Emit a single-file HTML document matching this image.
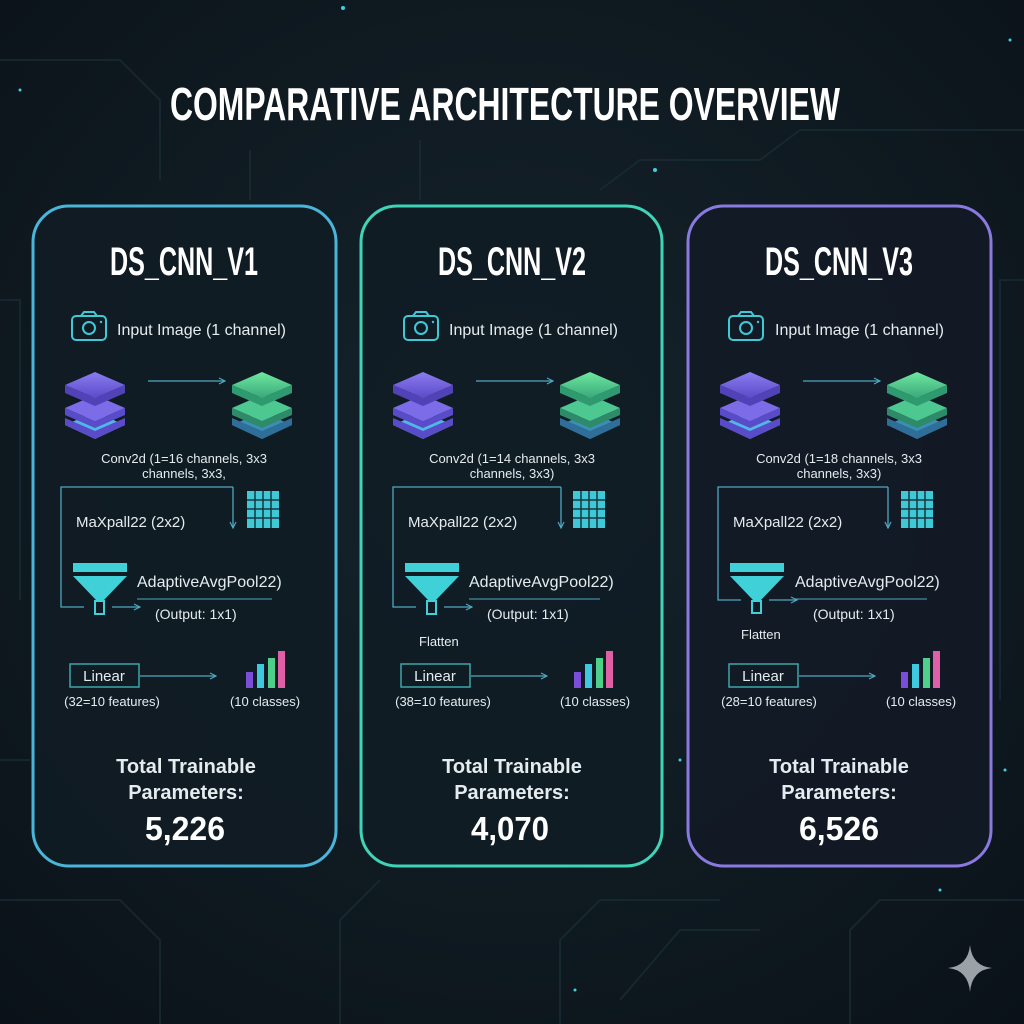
<!DOCTYPE html>
<html><head><meta charset="utf-8"><style>
html,body{margin:0;padding:0;background:#0d161d;}
svg{display:block}
.t{font-family:"Liberation Sans",sans-serif;fill:#e4ecef}
.c{font-family:"Liberation Sans",sans-serif;font-weight:bold;fill:#fff}
</style></head><body>
<svg width="1024" height="1024" viewBox="0 0 1024 1024" xmlns="http://www.w3.org/2000/svg">
<defs>
<radialGradient id="bg" cx="50%" cy="45%" r="75%"><stop offset="0" stop-color="#16242d"/><stop offset="1" stop-color="#0a1218"/></radialGradient>
<linearGradient id="pu" x1="0" y1="0" x2="0" y2="1"><stop offset="0" stop-color="#8b7cf0"/><stop offset="1" stop-color="#5a4bc8"/></linearGradient>
<linearGradient id="gr" x1="0" y1="0" x2="0" y2="1"><stop offset="0" stop-color="#6ee8a0"/><stop offset="1" stop-color="#3aa87a"/></linearGradient>
<marker id="ar" markerWidth="8" markerHeight="8" refX="7" refY="4" orient="auto" markerUnits="userSpaceOnUse"><path d="M1,1 L7,4 L1,7" fill="none" stroke="#4fa7c0" stroke-width="1.2"/></marker>
</defs>
<rect width="1024" height="1024" fill="url(#bg)"/>
<g stroke="#1a2e38" stroke-width="2" fill="none" opacity="0.7">
<path d="M0,60 H120 L160,100 V180"/><path d="M0,300 H20 V600"/><path d="M1024,280 H1000 V700"/>
<path d="M600,190 L640,160 H760 L800,130 H1024"/><path d="M250,150 V200"/><path d="M420,140 V200"/>
<path d="M0,900 H120 L160,940 V1024"/><path d="M560,1024 V940 L600,900 H720"/><path d="M620,1000 L680,930 H760"/>
<path d="M1024,900 H880 L850,930 V1024"/><path d="M340,1024 V920 L380,880"/><path d="M30,760 H0"/>
</g>
<g fill="#3fd0e0"><circle cx="343" cy="8" r="2"/><circle cx="655" cy="170" r="2"/><circle cx="1010" cy="40" r="1.5"/><circle cx="20" cy="90" r="1.5"/><circle cx="680" cy="760" r="1.5"/><circle cx="1005" cy="770" r="1.5"/><circle cx="575" cy="990" r="1.5"/><circle cx="940" cy="890" r="1.5"/></g>
<path d="M970,945 Q972,966 992,968 Q972,970 970,992 Q968,970 948,968 Q968,966 970,945Z" fill="#9aa2a8"/>
<text x="170" y="120" class="c" font-size="46" textLength="670" lengthAdjust="spacingAndGlyphs">COMPARATIVE ARCHITECTURE OVERVIEW</text>

<!-- Card 1 -->
<g>
<rect x="33" y="206" width="303" height="660" rx="36" fill="#111c24" fill-opacity="0.85" stroke="#4ab5d8" stroke-width="3"/>
<text x="110" y="275" class="c" font-size="40" textLength="148" lengthAdjust="spacingAndGlyphs">DS_CNN_V1</text>
<rect x="72" y="316" width="34" height="24" rx="4" fill="none" stroke="#3fc9d6" stroke-width="2"/><path d="M81,316 l3,-4 h10 l3,4" fill="none" stroke="#3fc9d6" stroke-width="2"/><circle cx="89" cy="328" r="6" fill="none" stroke="#3fc9d6" stroke-width="2"/><circle cx="101" cy="322" r="1.2" fill="#3fc9d6"/>
<text x="117" y="335" class="t" font-size="16">Input Image (1 channel)</text>
<g><path d="M95,412 l30,13 l-30,14 l-30,-14z" fill="#4fb8e8"/><path d="M65,418 l30,13 l30,-13 v7 l-30,14 l-30,-14z" fill="#5a4bc8"/><path d="M95,395 l30,13 l-30,13 l-30,-13z" fill="#7c6ce8"/><path d="M65,408 v7 l30,13 l30,-13 v-7 l-30,13z" fill="#5a4bc8"/><path d="M95,372 l30,13 l-30,13 l-30,-13z" fill="url(#pu)"/><path d="M65,385 v8 l30,13 l30,-13 v-8 l-30,13z" fill="#5242b8"/></g>
<g><path d="M262,412 l30,13 l-30,14 l-30,-14z" fill="#3a8fb8"/><path d="M232,418 l30,13 l30,-13 v7 l-30,14 l-30,-14z" fill="#2e6e98"/><path d="M262,395 l30,13 l-30,13 l-30,-13z" fill="#4cc890"/><path d="M232,408 v7 l30,13 l30,-13 v-7 l-30,13z" fill="#2f8a6a"/><path d="M262,372 l30,13 l-30,13 l-30,-13z" fill="url(#gr)"/><path d="M232,385 v8 l30,13 l30,-13 v-8 l-30,13z" fill="#2f9a70"/></g>
<line x1="148" y1="381" x2="225" y2="381" stroke="#4fa7c0" stroke-width="1.3" marker-end="url(#ar)"/>
<text x="184" y="463" text-anchor="middle" class="t" font-size="13">Conv2d (1=16 channels, 3x3</text>
<text x="184" y="478" text-anchor="middle" class="t" font-size="13">channels, 3x3,</text>
<path d="M233,487 H61 V607 H84" fill="none" stroke="#4fa7c0" stroke-width="1.3"/>
<line x1="233" y1="487" x2="233" y2="528" stroke="#4fa7c0" stroke-width="1.3" marker-end="url(#ar)"/>
<line x1="112" y1="607" x2="140" y2="607" stroke="#4fa7c0" stroke-width="1.3" marker-end="url(#ar)"/>
<rect x="247" y="491" width="32" height="37" fill="#3fc9d6"/>
<g stroke="#1a3540" stroke-width="1.5"><line x1="255" y1="491" x2="255" y2="528"/><line x1="263" y1="491" x2="263" y2="528"/><line x1="271" y1="491" x2="271" y2="528"/><line x1="247" y1="500" x2="279" y2="500"/><line x1="247" y1="509" x2="279" y2="509"/><line x1="247" y1="518" x2="279" y2="518"/></g>
<text x="76" y="527" class="t" font-size="15">MaXpall22 (2x2)</text>
<rect x="73" y="563" width="54" height="9" fill="#3fd0d8"/><path d="M73,576 H127 L104,600 H96Z" fill="#3fd0d8"/><rect x="95" y="601" width="9" height="13" fill="none" stroke="#3fd0d8" stroke-width="2"/>
<text x="137" y="587" class="t" font-size="16">AdaptiveAvgPool22)</text>
<line x1="137" y1="599" x2="272" y2="599" stroke="#4fa7c0" stroke-width="1"/>
<text x="155" y="619" class="t" font-size="14">(Output: 1x1)</text>
<rect x="70" y="664" width="69" height="23" fill="none" stroke="#3aa6a8" stroke-width="1.5"/>
<text x="104" y="681" text-anchor="middle" class="t" font-size="15">Linear</text>
<line x1="140" y1="676" x2="216" y2="676" stroke="#4fa7c0" stroke-width="1.3" marker-end="url(#ar)"/>
<text x="112" y="706" text-anchor="middle" class="t" font-size="13">(32=10 features)</text>
<rect x="246" y="672" width="7" height="16" fill="#7a4ed8"/><rect x="257" y="664" width="7" height="24" fill="#3fc9e0"/><rect x="268" y="658" width="7" height="30" fill="#4cd08a"/><rect x="278" y="651" width="7" height="37" fill="#e060a8"/>
<text x="265" y="706" text-anchor="middle" class="t" font-size="13">(10 classes)</text>
<text x="186" y="773" text-anchor="middle" class="t" font-size="20" font-weight="bold" fill="#fff">Total Trainable</text>
<text x="186" y="799" text-anchor="middle" class="t" font-size="20" font-weight="bold" fill="#fff">Parameters:</text>
<text x="145" y="840" class="c" font-size="33" textLength="80" lengthAdjust="spacingAndGlyphs">5,226</text>
</g>

<!-- Card 2 -->
<g transform="translate(328,0)">
<rect x="33" y="206" width="301" height="660" rx="36" fill="#111c24" fill-opacity="0.85" stroke="#3fd3b8" stroke-width="3"/>
<text x="110" y="275" class="c" font-size="40" textLength="148" lengthAdjust="spacingAndGlyphs">DS_CNN_V2</text>
<rect x="76" y="316" width="34" height="24" rx="4" fill="none" stroke="#3fc9d6" stroke-width="2"/><path d="M85,316 l3,-4 h10 l3,4" fill="none" stroke="#3fc9d6" stroke-width="2"/><circle cx="93" cy="328" r="6" fill="none" stroke="#3fc9d6" stroke-width="2"/><circle cx="105" cy="322" r="1.2" fill="#3fc9d6"/>
<text x="121" y="335" class="t" font-size="16">Input Image (1 channel)</text>
<g><path d="M95,412 l30,13 l-30,14 l-30,-14z" fill="#4fb8e8"/><path d="M65,418 l30,13 l30,-13 v7 l-30,14 l-30,-14z" fill="#5a4bc8"/><path d="M95,395 l30,13 l-30,13 l-30,-13z" fill="#7c6ce8"/><path d="M65,408 v7 l30,13 l30,-13 v-7 l-30,13z" fill="#5a4bc8"/><path d="M95,372 l30,13 l-30,13 l-30,-13z" fill="url(#pu)"/><path d="M65,385 v8 l30,13 l30,-13 v-8 l-30,13z" fill="#5242b8"/></g>
<g><path d="M262,412 l30,13 l-30,14 l-30,-14z" fill="#3a8fb8"/><path d="M232,418 l30,13 l30,-13 v7 l-30,14 l-30,-14z" fill="#2e6e98"/><path d="M262,395 l30,13 l-30,13 l-30,-13z" fill="#4cc890"/><path d="M232,408 v7 l30,13 l30,-13 v-7 l-30,13z" fill="#2f8a6a"/><path d="M262,372 l30,13 l-30,13 l-30,-13z" fill="url(#gr)"/><path d="M232,385 v8 l30,13 l30,-13 v-8 l-30,13z" fill="#2f9a70"/></g>
<line x1="148" y1="381" x2="225" y2="381" stroke="#4fa7c0" stroke-width="1.3" marker-end="url(#ar)"/>
<text x="184" y="463" text-anchor="middle" class="t" font-size="13">Conv2d (1=14 channels, 3x3</text>
<text x="184" y="478" text-anchor="middle" class="t" font-size="13">channels, 3x3)</text>
<path d="M233,487 H65 V607 H88" fill="none" stroke="#4fa7c0" stroke-width="1.3"/>
<line x1="233" y1="487" x2="233" y2="528" stroke="#4fa7c0" stroke-width="1.3" marker-end="url(#ar)"/>
<line x1="116" y1="607" x2="144" y2="607" stroke="#4fa7c0" stroke-width="1.3" marker-end="url(#ar)"/>
<rect x="245" y="491" width="32" height="37" fill="#3fc9d6"/>
<g stroke="#1a3540" stroke-width="1.5"><line x1="253" y1="491" x2="253" y2="528"/><line x1="261" y1="491" x2="261" y2="528"/><line x1="269" y1="491" x2="269" y2="528"/><line x1="245" y1="500" x2="277" y2="500"/><line x1="245" y1="509" x2="277" y2="509"/><line x1="245" y1="518" x2="277" y2="518"/></g>
<text x="80" y="527" class="t" font-size="15">MaXpall22 (2x2)</text>
<rect x="77" y="563" width="54" height="9" fill="#3fd0d8"/><path d="M77,576 H131 L108,600 H100Z" fill="#3fd0d8"/><rect x="99" y="601" width="9" height="13" fill="none" stroke="#3fd0d8" stroke-width="2"/>
<text x="141" y="587" class="t" font-size="16">AdaptiveAvgPool22)</text>
<line x1="141" y1="599" x2="272" y2="599" stroke="#4fa7c0" stroke-width="1"/>
<text x="159" y="619" class="t" font-size="14">(Output: 1x1)</text>
<text x="91" y="646" class="t" font-size="13">Flatten</text>
<rect x="73" y="664" width="69" height="23" fill="none" stroke="#3aa6a8" stroke-width="1.5"/>
<text x="107" y="681" text-anchor="middle" class="t" font-size="15">Linear</text>
<line x1="143" y1="676" x2="219" y2="676" stroke="#4fa7c0" stroke-width="1.3" marker-end="url(#ar)"/>
<text x="115" y="706" text-anchor="middle" class="t" font-size="13">(38=10 features)</text>
<rect x="246" y="672" width="7" height="16" fill="#7a4ed8"/><rect x="257" y="664" width="7" height="24" fill="#3fc9e0"/><rect x="268" y="658" width="7" height="30" fill="#4cd08a"/><rect x="278" y="651" width="7" height="37" fill="#e060a8"/>
<text x="267" y="706" text-anchor="middle" class="t" font-size="13">(10 classes)</text>
<text x="184" y="773" text-anchor="middle" class="t" font-size="20" font-weight="bold" fill="#fff">Total Trainable</text>
<text x="184" y="799" text-anchor="middle" class="t" font-size="20" font-weight="bold" fill="#fff">Parameters:</text>
<text x="143" y="840" class="c" font-size="33" textLength="78" lengthAdjust="spacingAndGlyphs">4,070</text>
</g>

<!-- Card 3 -->
<g transform="translate(655,0)">
<rect x="33" y="206" width="303" height="660" rx="36" fill="#131a26" fill-opacity="0.85" stroke="#8a7ae0" stroke-width="3"/>
<text x="110" y="275" class="c" font-size="40" textLength="148" lengthAdjust="spacingAndGlyphs">DS_CNN_V3</text>
<rect x="74" y="316" width="34" height="24" rx="4" fill="none" stroke="#3fc9d6" stroke-width="2"/><path d="M83,316 l3,-4 h10 l3,4" fill="none" stroke="#3fc9d6" stroke-width="2"/><circle cx="91" cy="328" r="6" fill="none" stroke="#3fc9d6" stroke-width="2"/><circle cx="103" cy="322" r="1.2" fill="#3fc9d6"/>
<text x="120" y="335" class="t" font-size="16">Input Image (1 channel)</text>
<g><path d="M95,412 l30,13 l-30,14 l-30,-14z" fill="#4fb8e8"/><path d="M65,418 l30,13 l30,-13 v7 l-30,14 l-30,-14z" fill="#5a4bc8"/><path d="M95,395 l30,13 l-30,13 l-30,-13z" fill="#7c6ce8"/><path d="M65,408 v7 l30,13 l30,-13 v-7 l-30,13z" fill="#5a4bc8"/><path d="M95,372 l30,13 l-30,13 l-30,-13z" fill="url(#pu)"/><path d="M65,385 v8 l30,13 l30,-13 v-8 l-30,13z" fill="#5242b8"/></g>
<g><path d="M262,412 l30,13 l-30,14 l-30,-14z" fill="#3a8fb8"/><path d="M232,418 l30,13 l30,-13 v7 l-30,14 l-30,-14z" fill="#2e6e98"/><path d="M262,395 l30,13 l-30,13 l-30,-13z" fill="#4cc890"/><path d="M232,408 v7 l30,13 l30,-13 v-7 l-30,13z" fill="#2f8a6a"/><path d="M262,372 l30,13 l-30,13 l-30,-13z" fill="url(#gr)"/><path d="M232,385 v8 l30,13 l30,-13 v-8 l-30,13z" fill="#2f9a70"/></g>
<line x1="148" y1="381" x2="225" y2="381" stroke="#4fa7c0" stroke-width="1.3" marker-end="url(#ar)"/>
<text x="184" y="463" text-anchor="middle" class="t" font-size="13">Conv2d (1=18 channels, 3x3</text>
<text x="184" y="478" text-anchor="middle" class="t" font-size="13">channels, 3x3)</text>
<path d="M233,487 H63 V600 H86" fill="none" stroke="#4fa7c0" stroke-width="1.3"/>
<line x1="233" y1="487" x2="233" y2="528" stroke="#4fa7c0" stroke-width="1.3" marker-end="url(#ar)"/>
<line x1="114" y1="600" x2="142" y2="600" stroke="#4fa7c0" stroke-width="1.3" marker-end="url(#ar)"/>
<rect x="246" y="491" width="32" height="37" fill="#3fc9d6"/>
<g stroke="#1a3540" stroke-width="1.5"><line x1="254" y1="491" x2="254" y2="528"/><line x1="262" y1="491" x2="262" y2="528"/><line x1="270" y1="491" x2="270" y2="528"/><line x1="246" y1="500" x2="278" y2="500"/><line x1="246" y1="509" x2="278" y2="509"/><line x1="246" y1="518" x2="278" y2="518"/></g>
<text x="78" y="527" class="t" font-size="15">MaXpall22 (2x2)</text>
<rect x="75" y="563" width="54" height="9" fill="#3fd0d8"/><path d="M75,576 H129 L106,600 H98Z" fill="#3fd0d8"/><rect x="97" y="601" width="9" height="12" fill="none" stroke="#3fd0d8" stroke-width="2"/>
<text x="140" y="587" class="t" font-size="16">AdaptiveAvgPool22)</text>
<line x1="140" y1="599" x2="272" y2="599" stroke="#4fa7c0" stroke-width="1"/>
<text x="158" y="619" class="t" font-size="14">(Output: 1x1)</text>
<text x="86" y="639" class="t" font-size="13">Flatten</text>
<rect x="74" y="664" width="69" height="23" fill="none" stroke="#3aa6a8" stroke-width="1.5"/>
<text x="108" y="681" text-anchor="middle" class="t" font-size="15">Linear</text>
<line x1="144" y1="676" x2="220" y2="676" stroke="#4fa7c0" stroke-width="1.3" marker-end="url(#ar)"/>
<text x="114" y="706" text-anchor="middle" class="t" font-size="13">(28=10 features)</text>
<rect x="246" y="672" width="7" height="16" fill="#7a4ed8"/><rect x="257" y="664" width="7" height="24" fill="#3fc9e0"/><rect x="268" y="658" width="7" height="30" fill="#4cd08a"/><rect x="278" y="651" width="7" height="37" fill="#e060a8"/>
<text x="266" y="706" text-anchor="middle" class="t" font-size="13">(10 classes)</text>
<text x="184" y="773" text-anchor="middle" class="t" font-size="20" font-weight="bold" fill="#fff">Total Trainable</text>
<text x="184" y="799" text-anchor="middle" class="t" font-size="20" font-weight="bold" fill="#fff">Parameters:</text>
<text x="144" y="840" class="c" font-size="33" textLength="80" lengthAdjust="spacingAndGlyphs">6,526</text>
</g>
</svg>
</body></html>
